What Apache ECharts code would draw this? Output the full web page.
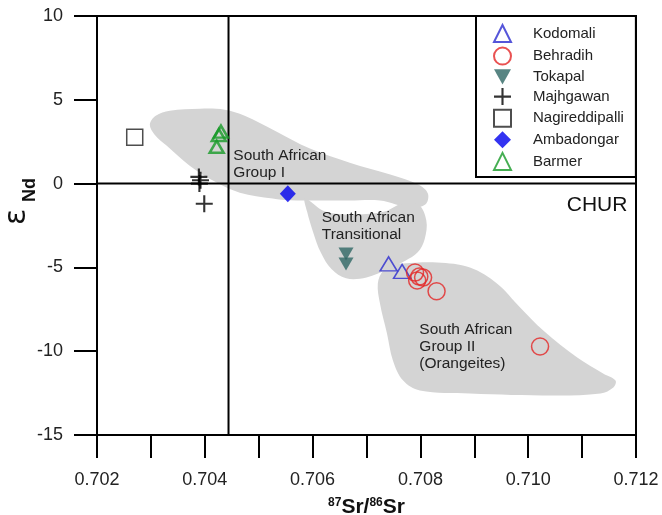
<!DOCTYPE html>
<html>
<head>
<meta charset="utf-8">
<script src="https://cdn.jsdelivr.net/npm/echarts@6/dist/echarts.min.js"></script>
<style>
  html, body { margin: 0; padding: 0; background: #fff; }
  #main { width: 662px; height: 515px; }
</style>
</head>
<body>
<div id="main"></div>
<script>
// sample points: [87Sr/86Sr, eNd]
const kodomali = [[0.70741, -4.79], [0.70766, -5.24]];
const behradih = [[0.70790, -5.31], [0.70798, -5.55], [0.70805, -5.61], [0.70794, -5.78], [0.70830, -6.42], [0.71022, -9.72]];
const tokapal = [[0.70662, -4.2], [0.70662, -4.8]];
const majhgawan = [[0.70389, 0.4], [0.70392, 0.2], [0.70390, 0.0], [0.70399, -1.2]];
const nagireddipalli = [[0.70270, 2.76]];
const ambadongar = [[0.70554, -0.6]];
const barmer = [[0.70430, 3.1], [0.70426, 2.9], [0.70422, 2.2]];

// outlines of the South African fields
const groupI = [
  [0.70298, 3.52], [0.70309, 4.05], [0.70335, 4.35], [0.70391, 4.47], [0.70437, 4.41],
  [0.70474, 4.05], [0.70530, 3.16], [0.70595, 2.09], [0.70669, 1.25], [0.70744, 0.54],
  [0.70796, -0.06], [0.70814, -0.60], [0.70809, -1.25], [0.70781, -1.43], [0.70725, -1.01],
  [0.70669, -1.01], [0.70614, -1.01], [0.70558, -1.0], [0.70526, -0.89], [0.70465, -0.54],
  [0.70422, 0.06], [0.70372, 1.07], [0.70329, 2.27], [0.70307, 2.92]
];
const transitional = [
  [0.70586, -0.89], [0.70623, -1.67], [0.70679, -1.85], [0.70734, -1.67], [0.70762, -1.25],
  [0.70796, -1.25], [0.70811, -2.2], [0.70808, -3.3], [0.70795, -4.1], [0.70772, -4.6],
  [0.70740, -5.1], [0.70700, -5.6], [0.70662, -5.65], [0.70635, -5.1], [0.70615, -4.1],
  [0.70601, -2.9], [0.70590, -1.7]
];
const groupII = [
  [0.70731, -5.19], [0.70747, -4.89], [0.70768, -4.77], [0.70831, -4.71], [0.70892, -5.01],
  [0.70942, -5.96], [0.70985, -7.39], [0.71028, -8.77], [0.71091, -10.38], [0.71139, -11.33],
  [0.71162, -11.75], [0.71158, -12.16], [0.71134, -12.52], [0.71046, -12.64], [0.70892, -12.52],
  [0.70799, -12.34], [0.70768, -11.75], [0.70749, -10.55], [0.70738, -8.94], [0.70725, -7.16],
  [0.70721, -5.96]
];
const regions = [groupI, transitional, groupII];

const fieldLabels = [
  [0.70453, 1.15, 'South African\nGroup I', 'left'],
  [0.70617, -2.55, 'South African\nTransitional', 'left'],
  [0.70798, -9.76, 'South African\nGroup II\n(Orangeites)', 'left'],
  [0.71184, -1.31, 'CHUR', 'right']
];

const xTicks = [0.702, 0.712, 0.001];
const yTicks = [-15, 10, 5];

// reference lines: CHUR (eNd = 0) and bulk earth 87Sr/86Sr
const churLine = [[xTicks[0], 0], [xTicks[1], 0]];
const bulkEarthLine = [[0.70444, yTicks[0]], [0.70444, yTicks[1]]];

const plusPath = 'path://M7,0H9V16H7ZM0,7H16V9H0Z';
const downTri = 'path://M0,0L10,0L5,9Z';

const chart = echarts.init(document.getElementById('main'), null, { renderer: 'canvas' });

function pts(name, data, symbol, size, style) {
  return { type: 'scatter', name: name, data: data, symbol: symbol, symbolSize: size,
    itemStyle: style, z: 5 };
}

function refLine(data) {
  return { type: 'line', data: data, z: 2, silent: true, symbol: 'none',
    lineStyle: { color: '#000', width: 2 } };
}

const option = {
  animation: false,
  backgroundColor: '#fff',
  grid: {
    left: 97, top: 16, right: 26, bottom: 80, outerBoundsMode: 'none',
    show: true, borderColor: '#000', borderWidth: 2, backgroundColor: 'transparent'
  },
  xAxis: {
    type: 'value', min: xTicks[0], max: xTicks[1], interval: xTicks[2],
    splitLine: { show: false },
    axisLine: { onZero: false, lineStyle: { color: '#000', width: 2 } },
    axisTick: { inside: false, length: 23, lineStyle: { color: '#000', width: 2 } },
    axisLabel: {
      margin: 36, fontSize: 18, color: '#222', fontFamily: 'Liberation Sans, Arial',
      formatter: v => (Math.round(v * 1000) % 2 === 0 ? v.toFixed(3) : '')
    },
    name: '{sup|87}{b|Sr/}{sup|86}{b|Sr}', nameLocation: 'middle', nameGap: 62,
    nameTextStyle: {
      rich: {
        b: { fontSize: 21, fontWeight: 'bold', color: '#111', fontFamily: 'Liberation Sans, Arial' },
        sup: { fontSize: 12, fontWeight: 'bold', color: '#111', verticalAlign: 'top', fontFamily: 'Liberation Sans, Arial' }
      }
    }
  },
  yAxis: {
    type: 'value', min: yTicks[0], max: yTicks[1], interval: yTicks[2],
    splitLine: { show: false },
    axisLine: { onZero: false, lineStyle: { color: '#000', width: 2 } },
    axisTick: { inside: false, length: 23, lineStyle: { color: '#000', width: 2 } },
    axisLabel: { margin: 34, fontSize: 18, color: '#222', fontFamily: 'Liberation Sans, Arial' }
  },
  graphic: [
    { type: 'text', x: 17, y: 217, rotation: Math.PI / 2,
      style: { text: 'ε', font: '30px "DejaVu Sans"', fill: '#111', align: 'center', verticalAlign: 'middle' } },
    { type: 'text', x: 30, y: 190, rotation: Math.PI / 2,
      style: { text: 'Nd', font: 'bold 18px "Liberation Sans"', fill: '#111', align: 'center', verticalAlign: 'middle' } }
  ],
  legend: {
    orient: 'vertical', left: 476, top: 16,
    padding: [8, 12, 6, 17],
    itemWidth: 17, itemHeight: 17, itemGap: 3.6,
    borderColor: '#000', borderWidth: 2, backgroundColor: '#fff',
    textStyle: { fontSize: 15, color: '#222', padding: [0, 0, 0, 17], fontFamily: 'Liberation Sans, Arial' },
    data: ['Kodomali', 'Behradih', 'Tokapal', 'Majhgawan', 'Nagireddipalli', 'Ambadongar', 'Barmer']
  },
  series: [
    {
      type: 'custom', silent: true, z: 1,
      data: regions.map(r => r[0]),
      renderItem: (params, api) => ({
        type: 'polygon',
        shape: { points: regions[params.dataIndex].map(p => api.coord(p)), smooth: 0.35 },
        style: { fill: '#d4d4d4' }
      })
    },
    refLine(churLine),
    refLine(bulkEarthLine),
    {
      type: 'custom', silent: true, z: 3,
      data: fieldLabels.map(l => [l[0], l[1]]),
      renderItem: (params, api) => {
        const c = api.coord([api.value(0), api.value(1)]);
        const l = fieldLabels[params.dataIndex];
        const big = l[2] === 'CHUR';
        return {
          type: 'text', x: c[0], y: c[1],
          style: {
            text: l[2], fill: big ? '#111' : '#222',
            font: (big ? '21px' : '15.5px') + ' "Liberation Sans", Arial',
            lineHeight: big ? 22 : 17,
            align: l[3], verticalAlign: 'middle'
          }
        };
      }
    },
    pts('Kodomali', kodomali, 'triangle', [17, 14], { color: 'transparent', borderColor: '#2b2bd0', borderWidth: 1.5 }),
    pts('Behradih', behradih, 'circle', 17, { color: 'transparent', borderColor: '#e32626', borderWidth: 1.5 }),
    pts('Tokapal', tokapal, downTri, [15, 13], { color: '#2e6764' }),
    pts('Majhgawan', majhgawan, plusPath, 17, { color: '#000' }),
    pts('Nagireddipalli', nagireddipalli, 'rect', 16, { color: 'transparent', borderColor: '#222', borderWidth: 1.5 }),
    pts('Ambadongar', ambadongar, 'diamond', [16, 17], { color: '#0000ee' }),
    pts('Barmer', barmer, 'triangle', [14, 12], { color: 'transparent', borderColor: '#179a27', borderWidth: 2.5 })
  ]
};

chart.setOption(option);
</script>
</body>
</html>
